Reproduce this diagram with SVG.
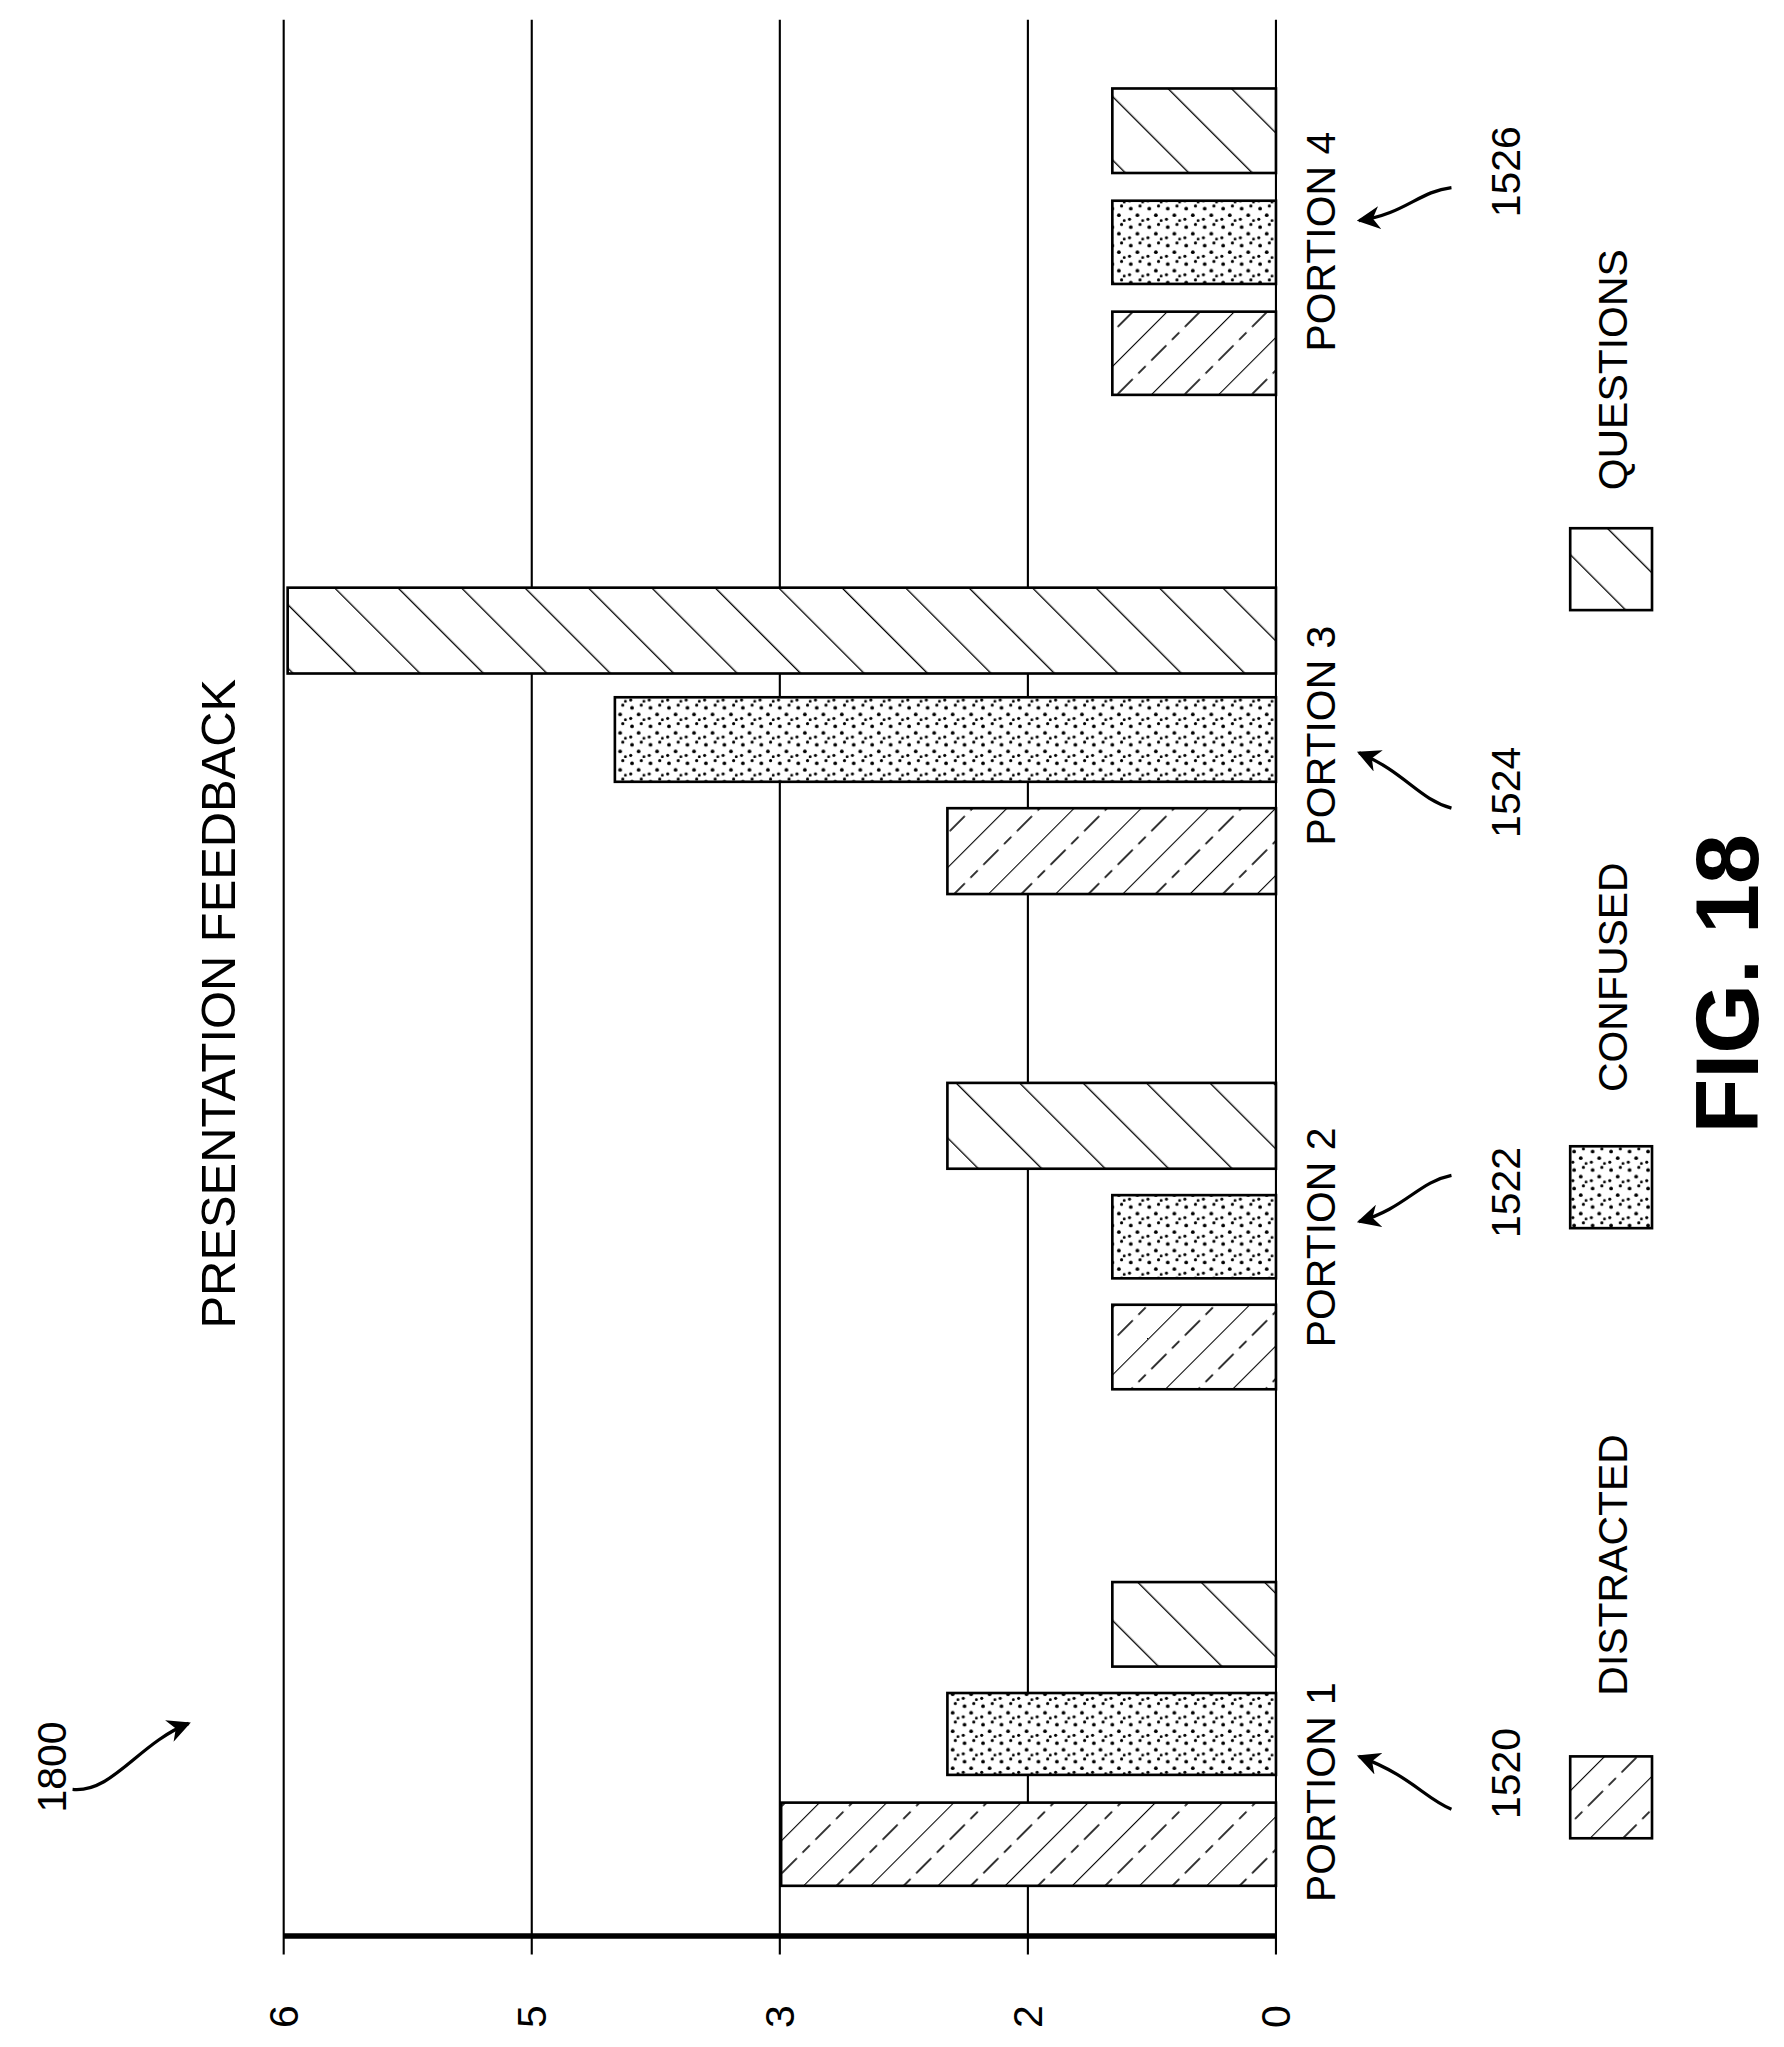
<svg xmlns="http://www.w3.org/2000/svg" width="1784" height="2047" viewBox="0 0 1784 2047">
<style>
text{font-family:"Liberation Sans",Arial,sans-serif;fill:#000}
.lbl{font-size:31px}
.grid{stroke:#000;stroke-width:1.6}
.bar{stroke:#000;stroke-width:2}
.ref{fill:none;stroke:#000;stroke-width:2.5}
</style>
<defs>
<pattern id="pD" patternUnits="userSpaceOnUse" width="36" height="36" patternTransform="rotate(45)">
<rect width="36" height="36" fill="#fff"/>
<line x1="0" y1="0" x2="0" y2="36" stroke="#000" stroke-width="1.6"/>
<line x1="18" y1="0" x2="18" y2="36" stroke="#000" stroke-width="1.2" stroke-dasharray="8,6"/>
</pattern>
<pattern id="pQ" patternUnits="userSpaceOnUse" width="34" height="34" patternTransform="rotate(-45)">
<rect width="34" height="34" fill="#fff"/>
<line x1="0" y1="0" x2="0" y2="34" stroke="#000" stroke-width="2"/>
</pattern>
<pattern id="pC" patternUnits="userSpaceOnUse" width="14" height="14">
<rect width="14" height="14" fill="#fff"/>
<circle cx="3" cy="4" r="1.4" fill="#000"/>
<circle cx="10" cy="2" r="1.2" fill="#000"/>
<circle cx="8" cy="9" r="1.4" fill="#000"/>
<circle cx="2" cy="12" r="1.2" fill="#000"/>
<circle cx="12" cy="13" r="1.1" fill="#000"/>
</pattern>
<marker id="ah" viewBox="0 0 10 10" refX="9" refY="5" markerWidth="7" markerHeight="7" orient="auto-start-reverse">
<path d="M0,0 L10,5 L0,10 L3,5 Z" fill="#000"/>
</marker>
</defs>
<g transform="scale(1.3195,1.3206)">
<g id="grid">
<line class="grid" x1="215" y1="15" x2="215" y2="1480"/>
<line class="grid" x1="403" y1="15" x2="403" y2="1480"/>
<line class="grid" x1="591" y1="15" x2="591" y2="1480"/>
<line class="grid" x1="779" y1="15" x2="779" y2="1480"/>
<line class="grid" x1="967" y1="15" x2="967" y2="1480"/>
<line x1="215" y1="1466" x2="967" y2="1466" stroke="#000" stroke-width="4"/>
<text class="lbl" transform="translate(226,1527) rotate(-90)" text-anchor="middle">6</text>
<text class="lbl" transform="translate(414,1527) rotate(-90)" text-anchor="middle">5</text>
<text class="lbl" transform="translate(602,1527) rotate(-90)" text-anchor="middle">3</text>
<text class="lbl" transform="translate(790,1527) rotate(-90)" text-anchor="middle">2</text>
<text class="lbl" transform="translate(978,1527) rotate(-90)" text-anchor="middle">0</text>
</g>
<g id="bars">
<rect class="bar" x="592" y="1365" width="375" height="63" fill="url(#pD)"/>
<rect class="bar" x="718" y="1282" width="249" height="62" fill="url(#pC)"/>
<rect class="bar" x="843" y="1198" width="124" height="64" fill="url(#pQ)"/>
<rect class="bar" x="843" y="988" width="124" height="64" fill="url(#pD)"/>
<rect class="bar" x="843" y="905" width="124" height="63" fill="url(#pC)"/>
<rect class="bar" x="718" y="820" width="249" height="65" fill="url(#pQ)"/>
<rect class="bar" x="718" y="612" width="249" height="65" fill="url(#pD)"/>
<rect class="bar" x="466" y="528" width="501" height="64" fill="url(#pC)"/>
<rect class="bar" x="218" y="445" width="749" height="65" fill="url(#pQ)"/>
<rect class="bar" x="843" y="236" width="124" height="63" fill="url(#pD)"/>
<rect class="bar" x="843" y="152" width="124" height="63" fill="url(#pC)"/>
<rect class="bar" x="843" y="67" width="124" height="64" fill="url(#pQ)"/>
</g>
<g id="portions">
<text class="lbl" transform="translate(1012,1357) rotate(-90)" text-anchor="middle">PORTION 1</text>
<text class="lbl" transform="translate(1012,937) rotate(-90)" text-anchor="middle">PORTION 2</text>
<text class="lbl" transform="translate(1012,557) rotate(-90)" text-anchor="middle">PORTION 3</text>
<text class="lbl" transform="translate(1012,183) rotate(-90)" text-anchor="middle">PORTION 4</text>
</g>
<g id="refs">
<text class="lbl" transform="translate(1152,1343) rotate(-90)" text-anchor="middle">1520</text>
<text class="lbl" transform="translate(1152,903) rotate(-90)" text-anchor="middle">1522</text>
<text class="lbl" transform="translate(1152,600) rotate(-90)" text-anchor="middle">1524</text>
<text class="lbl" transform="translate(1152,130) rotate(-90)" text-anchor="middle">1526</text>
<text class="lbl" transform="translate(50,1338) rotate(-90)" text-anchor="middle">1800</text>
</g>
<g id="connectors">
<path class="ref" d="M1100,1370 C1080,1362 1070,1345 1030,1330" marker-end="url(#ah)"/>
<path class="ref" d="M1100,890 C1075,895 1065,915 1030,925" marker-end="url(#ah)"/>
<path class="ref" d="M1100,612 C1075,605 1065,585 1030,570" marker-end="url(#ah)"/>
<path class="ref" d="M1100,142 C1075,145 1065,162 1030,167" marker-end="url(#ah)"/>
<path class="ref" d="M55,1355 C85,1358 105,1320 143,1305" marker-end="url(#ah)"/>
</g>
<g id="title">
<text transform="translate(178,760) rotate(-90)" text-anchor="middle" font-size="37">PRESENTATION FEEDBACK</text>
</g>
<g id="legend">
<rect class="bar" x="1190" y="1330" width="62" height="62" fill="url(#pD)"/>
<text class="lbl" transform="translate(1233,1185) rotate(-90)" text-anchor="middle">DISTRACTED</text>
<rect class="bar" x="1190" y="868" width="62" height="62" fill="url(#pC)"/>
<text class="lbl" transform="translate(1233,740) rotate(-90)" text-anchor="middle">CONFUSED</text>
<rect class="bar" x="1190" y="400" width="62" height="62" fill="url(#pQ)"/>
<text class="lbl" transform="translate(1233,280) rotate(-90)" text-anchor="middle">QUESTIONS</text>
</g>
<g id="fig">
<text transform="translate(1332,745) rotate(-90)" text-anchor="middle" font-size="68" font-weight="bold">FIG. 18</text>
</g>
</g>
</svg>
